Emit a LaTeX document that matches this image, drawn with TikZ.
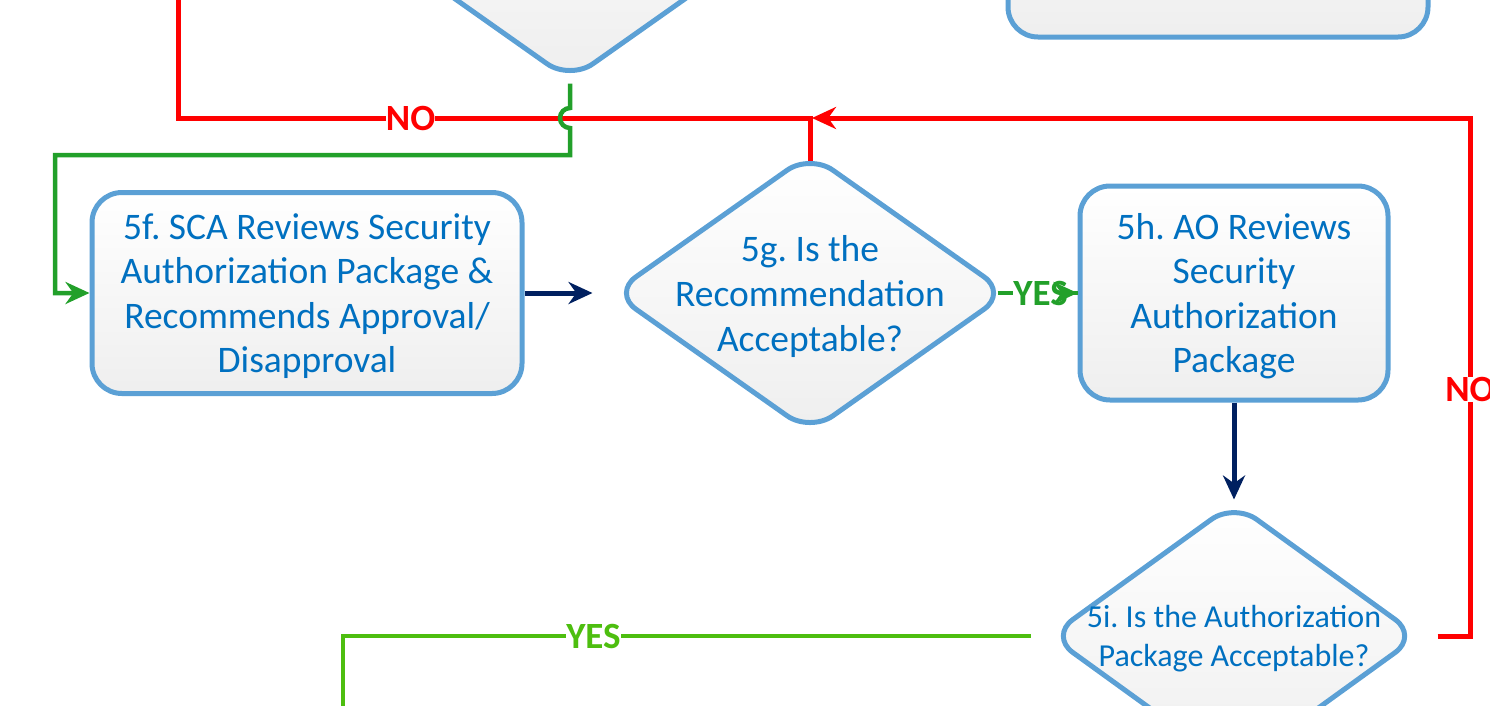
\documentclass[tikz,border=0pt]{standalone}
\usepackage{fontspec}
\setmainfont{Carlito}
\usetikzlibrary{shapes.geometric,arrows.meta}
\definecolor{boxline}{HTML}{5BA0D5}
\definecolor{boxtext}{HTML}{0070C0}
\definecolor{nored}{HTML}{FF0000}
\definecolor{yesgreen}{HTML}{22A02A}
\definecolor{yeslime}{HTML}{4DBE0F}
\definecolor{flownavy}{HTML}{002060}
\tikzset{
    > = {Stealth[length=24pt,width=22pt]},
    box/.style = {draw=boxline, line width=5pt, rounded corners=30pt,
        top color=white, bottom color=gray!13, text=boxtext, align=center,
        text depth=0pt, font=\fontsize{37.5}{44.5}\selectfont},
    dia/.style = {diamond, draw=boxline, line width=5pt, rounded corners=28pt,
        top color=white, bottom color=gray!13, inner sep=0pt},
    txt/.style = {text=boxtext, align=center, yshift=-3.5pt, font=\fontsize{37.5}{45}\selectfont},
    small/.style = {text=boxtext, align=center, yshift=-3pt, font=\fontsize{32}{39}\selectfont},
    flow/.style = {->, line width=5pt, flownavy},
    nopath/.style = {line width=5pt, nored},
    yespath/.style = {line width=4.5pt, yesgreen},
    lab/.style = {fill=white, inner sep=0pt, font=\bfseries\fontsize{37}{37}\selectfont}
}

\begin{document}
\frenchspacing
\begin{tikzpicture}[x=1pt, y=-1pt]
    \path[use as bounding box, clip] (0,0) rectangle (1490,705);

    \node[dia, minimum width=396, minimum height=280] (5e) at (570,-59) {};
    \node[box, minimum width=420, minimum height=206] (5d) at (1218,-66) {};
    \node[box, minimum width=430, minimum height=201] (5f) at (307,293)
        {5f. SCA Reviews Security\\Authorization Package \&\\Recommends Approval/\\Disapproval};
    \node[dia, minimum width=396, minimum height=280,
        label={[txt]center:5g. Is the\\Recommendation\\Acceptable?}] (5g) at (810,293) {};
    \node[box, minimum width=308, minimum height=214] (5h) at (1234,293)
        {5h. AO Reviews\\Security\\Authorization\\Package};
    \node[dia, minimum width=370, minimum height=268,
        label={[small]center:5i. Is the Authorization\\Package Acceptable?}] (5i) at (1234,636) {};

    \coordinate (nojoin) at (810,118);
    \coordinate (noleft) at (178,118);
    \coordinate (noup) at (178,-10);
    \coordinate (noright) at (1470,118);
    \coordinate (hop) at (570,108);
    \coordinate (gbend) at (570,155);
    \coordinate (gleft) at (55,293);
    \coordinate (ycorner) at (343,636);
    \coordinate (ydown) at (343,720);

    \draw[nopath, shorten <=-10pt] (5g.north) |- node[lab, text=nored, pos=0.816]{NO} (noleft) -- (noup);
    \draw[nopath, ->, shorten <=16pt, shorten >=2pt] (5i.east) -| node[lab, text=nored, pos=0.738]{NO} (noright) -- (nojoin);

    \draw[yespath, ->] (5e.south) -- (hop) arc[start angle=270, end angle=90, radius=10] -- (gbend) -| (gleft) -- (5f.west);
    \draw[yespath, shorten <=-13pt] (5g.east) -- node[lab, text=yesgreen, pos=0.45]{YES} (5h.west);
    \draw[yespath, ->, shorten <=60pt] (5g.east) -- (5h.west);
    \draw[yespath, yeslime, shorten <=16pt] (5i.west) -- node[lab, text=yeslime, pos=0.644]{YES} (ycorner) -- (ydown);

    \draw[flow, shorten >=17pt] (5f.east) -- (5g.west);
    \draw[flow] (5h.south) -- (5i.north);
\end{tikzpicture}
\end{document}
